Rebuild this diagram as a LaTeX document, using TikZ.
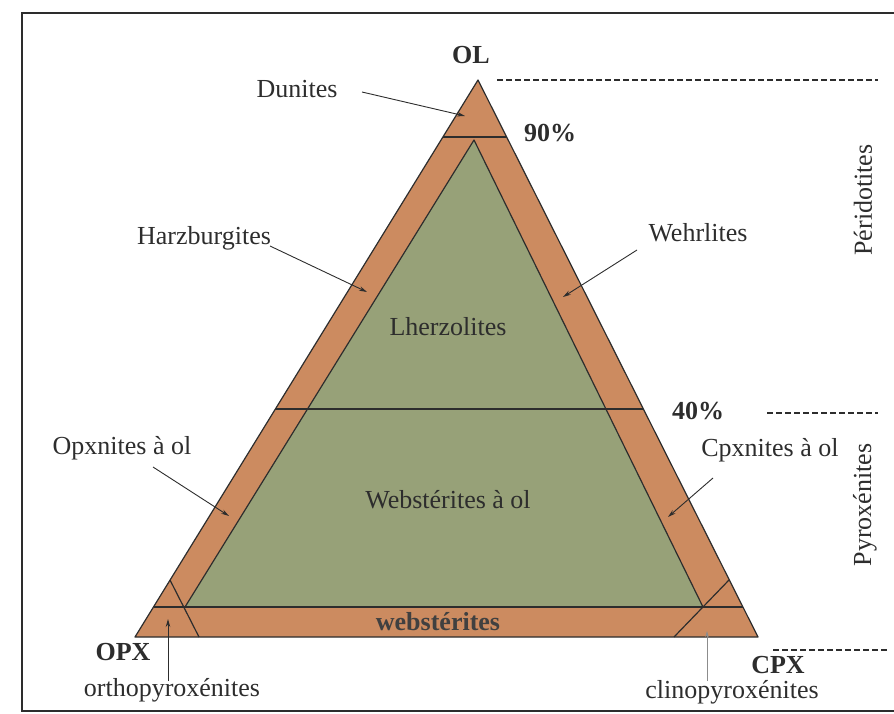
\documentclass[tikz,border=0pt]{standalone}
\usepackage{fontspec}
\setmainfont{Liberation Serif}
\usetikzlibrary{arrows.meta}
\definecolor{brn}{RGB}{204,139,96}
\definecolor{grn}{RGB}{151,161,120}
\definecolor{ink}{RGB}{45,45,45}
\begin{document}
\begin{tikzpicture}[x=1pt,y=-1pt,
  lbl/.style={font=\fontsize{26}{29}\selectfont, text=ink, inner sep=0pt},
  blbl/.style={font=\fontsize{26}{29}\selectfont\bfseries, text=ink, inner sep=0pt},
  edgeline/.style={draw=ink, line width=1.2pt, line join=round},
  ptr/.style={draw=ink, line width=0.9pt, -{Stealth[length=8pt,width=4.5pt]}},
  ptrthin/.style={draw=black!45, line width=0.7pt, -{Stealth[length=6pt,width=3.5pt]}},
  dashsep/.style={draw=ink, line width=1.1pt, dash pattern=on 6pt off 3pt},
  frameline/.style={draw=ink, line width=1.6pt}]
\useasboundingbox (0,0) rectangle (894,714);
% frame
\draw[frameline] (894,13) -- (22,13) -- (22,711) -- (894,711);
% geometry
\coordinate (A) at (478,80);
\coordinate (B) at (135,637);
\coordinate (C) at (758,637);
\coordinate (a) at (474,140);
\coordinate (b) at (185,607);
\coordinate (c) at (703,607);
\fill[brn] (A) -- (B) -- (C) -- cycle;
\fill[grn] (a) -- (b) -- (c) -- cycle;
\draw[edgeline] (a) -- (b) -- (c) -- cycle;
\draw[edgeline] (443,137) -- (507,137);
\draw[edgeline] (275.4,409) -- (643.4,409);
\draw[edgeline] (153.5,607) -- (743,607);
\draw[edgeline] (170,580) -- (199,637);
\draw[edgeline] (729,580) -- (674,637);
\draw[edgeline] (A) -- (B) -- (C) -- cycle;
% dashed separators
\coordinate (d1a) at (497,80); \coordinate (d1b) at (878,80);
\coordinate (d2a) at (767,413); \coordinate (d2b) at (878,413);
\coordinate (d3a) at (773,650); \coordinate (d3b) at (887,650);
\draw[dashsep] (d1a) -- (d1b);
\draw[dashsep] (d2a) -- (d2b);
\draw[dashsep] (d3a) -- (d3b);
% labels
\node[blbl] (ol) at (471,55) {OL};
\node[blbl] (p90) at (550,133) {90\%};
\node[blbl] (p40) at (698,411) {40\%};
\node[blbl] (opx) at (123,652) {OPX};
\node[blbl] (cpx) at (778,665) {CPX};
\node[lbl] (dun) at (297,89) {Dunites};
\node[lbl] (harz) at (204,238) {Harzburgites};
\node[lbl] (wehr) at (698,233) {Wehrlites};
\node[lbl] (lherz) at (448,327) {Lherzolites};
\node[lbl] (opxol) at (122,448) {Opxnites à ol};
\node[lbl] (cpxol) at (770,450) {Cpxnites à ol};
\node[lbl] (webol) at (448,500) {Webstérites à ol};
\node[blbl, text=black!75] (web) at (438,622) {webstérites};
\node[lbl] (ortho) at (172,690) {orthopyroxénites};
\node[lbl] (clino) at (732,692) {clinopyroxénites};
\node[lbl, rotate=90] (perid) at (863,200) {Péridotites};
\node[lbl, rotate=90] (pyrox) at (865,505) {Pyroxénites};
% arrows
\coordinate (dunS) at (362,92);   \coordinate (dunT) at (465,116);
\coordinate (harzS) at (270,246); \coordinate (harzT) at (367,292);
\coordinate (wehrS) at (637,250); \coordinate (wehrT) at (563,297);
\coordinate (opxS) at (153,467);  \coordinate (opxT) at (229,516);
\coordinate (cpxS) at (713,478);  \coordinate (cpxT) at (668,517);
\coordinate (orthoS) at (168,681); \coordinate (orthoT) at (168,619);
\coordinate (clinoS) at (707,681); \coordinate (clinoT) at (707,631);
\draw[ptr] (dunS) -- (dunT);
\draw[ptr] (harzS) -- (harzT);
\draw[ptr] (wehrS) -- (wehrT);
\draw[ptr] (opxS) -- (opxT);
\draw[ptr] (cpxS) -- (cpxT);
\draw[ptr] (orthoS) -- (orthoT);
\draw[ptrthin] (clinoS) -- (clinoT);
\end{tikzpicture}
\end{document}
